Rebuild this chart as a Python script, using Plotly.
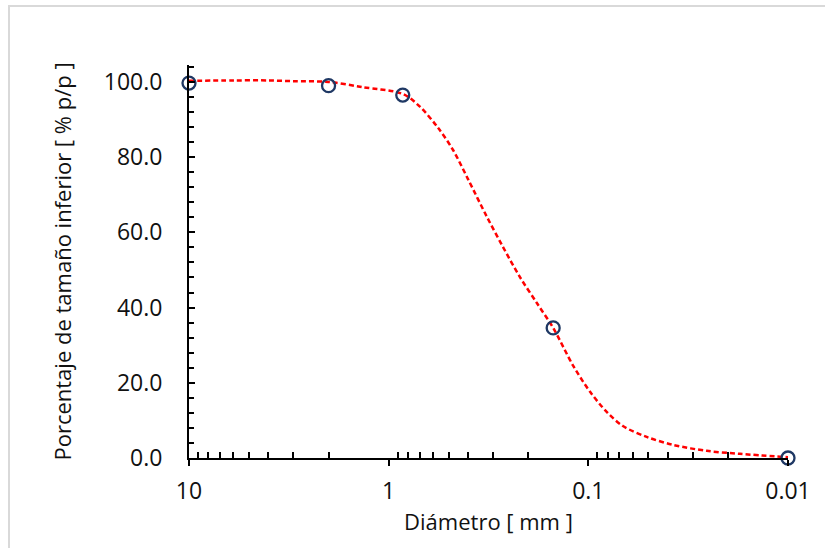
import plotly.graph_objects as go

# Measured points
diam_pts = [10, 2, 0.85, 0.15, 0.01]
pct_pts = [99.7, 99.0, 96.5, 34.6, 0.0]

# Fitted curve
diam_fit = [10, 6, 4, 3, 2, 1.35, 0.85, 0.70, 0.566, 0.476, 0.40, 0.322, 0.27,
            0.220, 0.18, 0.15, 0.119, 0.098, 0.0807, 0.0671, 0.051, 0.0377,
            0.0255, 0.0174, 0.01]
pct_fit = [100.3, 100.4, 100.4, 100.2, 100.0, 98.6, 96.8, 93.5, 87.8, 81.9,
           74.1, 64.1, 56.5, 48.1, 41.0, 34.6, 24.5, 17.6, 12.2, 8.5, 5.6,
           3.5, 1.9, 1.1, 0.2]

x_tickvals = [10, 1, 0.1, 0.01]
x_ticktext = ["10", "1", "0.1", "0.01"]
x_minor = [m * 10 ** e for e in (0, -1, -2) for m in range(2, 10)]

FONT = "Open Sans"

fig = go.Figure()
fig.add_trace(go.Scatter(
    x=diam_fit, y=pct_fit, mode="lines",
    line=dict(color="#ff0000", width=2.5, dash="5px,3px", shape="spline", smoothing=0.9),
    hoverinfo="skip", showlegend=False, cliponaxis=False,
))
fig.add_trace(go.Scatter(
    x=diam_pts, y=pct_pts, mode="markers",
    marker=dict(symbol="circle-open", size=13, color="#1f3864", line=dict(width=2.3, color="#1f3864")),
    showlegend=False, cliponaxis=False,
))

fig.update_layout(
    width=825, height=548,
    margin=dict(l=189, r=37, t=65, b=90),
    paper_bgcolor="white", plot_bgcolor="white",
    font=dict(family=FONT, size=23, color="#111111"),
    shapes=[dict(type="rect", xref="paper", yref="paper",
                 x0=-0.3005, x1=1.2, y0=-0.5, y1=1.150,
                 line=dict(color="#d9d9d9", width=2), layer="below")],
)
fig.update_xaxes(
    type="log", range=[1, -2],
    tickmode="array", tickvals=x_tickvals, ticktext=x_ticktext,
    ticks="outside", ticklen=6, tickwidth=2, tickcolor="black",
    showline=True, linecolor="black", linewidth=2,
    showgrid=False, zeroline=False,
    minor=dict(tickmode="array", tickvals=x_minor, ticks="inside", ticklen=6,
               tickwidth=1.5, tickcolor="black", showgrid=False),
    ticklabelstandoff=5,
    title=dict(text="Diámetro [ mm ]", font=dict(size=22), standoff=6),
)
fig.update_yaxes(
    range=[0, 104.5],
    tickmode="linear", tick0=0, dtick=20, tickformat=".1f",
    ticks="inside", ticklen=6, tickwidth=2, tickcolor="black",
    showline=True, linecolor="black", linewidth=2,
    showgrid=False, zeroline=False,
    minor=dict(dtick=4, ticks="inside", ticklen=5, tickwidth=1.5, tickcolor="black", showgrid=False),
    ticklabelstandoff=20,
    title=dict(text="Porcentaje de tamaño inferior [ % p/p ]", font=dict(size=22), standoff=26),
)

fig.write_html("out.html")
